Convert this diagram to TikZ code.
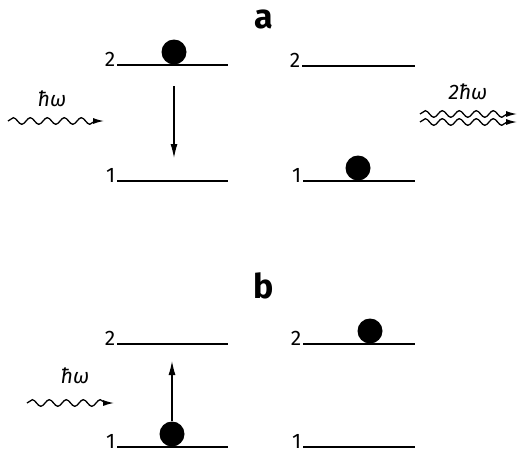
\documentclass[tikz,border=0pt]{standalone}
\usepackage{fontspec}
\setmainfont{Fira Sans}
\usetikzlibrary{arrows.meta,decorations.pathmorphing}
\begin{document}
\begin{tikzpicture}[x=1pt,y=-1pt,
  level/.style={line width=2pt},
  lbl/.style={font=\fontsize{21}{21}\selectfont, anchor=base east, inner sep=1.5pt, yshift=-1pt},
  ball/.style={circle, fill=black, minimum size=25pt, inner sep=0pt},
  trans/.style={line width=1.1pt, -{Latex[length=14pt,width=7pt]}},
  photon/.style={line width=1.3pt, decorate, decoration={snake, segment length=17pt, amplitude=3.3pt, post length=7pt}},
  phtip/.style={-{Latex[length=11pt,width=6pt]}},
  title/.style={font=\bfseries\fontsize{34}{34}\selectfont, anchor=base},
  energy/.style={font=\itshape\fontsize{21}{21}\selectfont}]
\useasboundingbox (0,0) rectangle (517,455);
% ---- panel a
\node[title] (ta) at (264,28) {a};
\coordinate (a2Ls) at (117,65); \coordinate (a2Le) at (228,65);
\coordinate (a1Ls) at (117,181); \coordinate (a1Le) at (228,181);
\coordinate (a2Rs) at (302,66); \coordinate (a2Re) at (415,66);
\coordinate (a1Rs) at (303,181); \coordinate (a1Re) at (415,181);
\draw[level] (a2Ls) -- (a2Le);
\draw[level] (a1Ls) -- (a1Le);
\draw[level] (a2Rs) -- (a2Re);
\draw[level] (a1Rs) -- (a1Re);
\node[lbl] (a2Lt) at (a2Ls) {2};
\node[lbl] (a1Lt) at (a1Ls) {1};
\node[lbl] (a2Rt) at (a2Rs) {2};
\node[lbl] (a1Rt) at (a1Rs) {1};
\node[ball] (aballL) at (174,52) {};
\node[ball] (aballR) at (358,168) {};
\coordinate (aarrS) at (174,86); \coordinate (aarrE) at (174,158);
\draw[trans] (aarrS) -- (aarrE);
% photon in (a)
\coordinate (apS) at (8,121); \coordinate (apE) at (104,121);
\draw[photon,phtip] (apS) -- (apE);
\node[energy] (apl) at (52,99) {ħω};
% outgoing double photon
\coordinate (aoS1) at (420,114); \coordinate (aoE1) at (517,114);
\coordinate (aoS2) at (420,122); \coordinate (aoE2) at (517,122);
\draw[photon,phtip] (aoS1) -- (aoE1);
\draw[photon,phtip] (aoS2) -- (aoE2);
\node[energy] (aol) at (468,92) {2ħω};
% ---- panel b
\node[title] (tb) at (264,298) {b};
\coordinate (b2Ls) at (117,344); \coordinate (b2Le) at (228,344);
\coordinate (b1Ls) at (117,447); \coordinate (b1Le) at (228,447);
\coordinate (b2Rs) at (303,344); \coordinate (b2Re) at (415,344);
\coordinate (b1Rs) at (303,447); \coordinate (b1Re) at (415,447);
\draw[level] (b2Ls) -- (b2Le);
\draw[level] (b1Ls) -- (b1Le);
\draw[level] (b2Rs) -- (b2Re);
\draw[level] (b1Rs) -- (b1Re);
\node[lbl] (b2Lt) at (b2Ls) {2};
\node[lbl] (b1Lt) at (b1Ls) {1};
\node[lbl] (b2Rt) at (b2Rs) {2};
\node[lbl] (b1Rt) at (b1Rs) {1};
\node[ball] (bballL) at (172,434) {};
\node[ball] (bballR) at (370,331) {};
\coordinate (barrE) at (172,361);
\draw[trans] (bballL.north) -- (barrE);
% photon in (b)
\coordinate (bpS) at (27,403); \coordinate (bpE) at (114,403);
\draw[photon,phtip] (bpS) -- (bpE);
\node[energy] (bpl) at (75,376) {ħω};
\end{tikzpicture}
\end{document}
